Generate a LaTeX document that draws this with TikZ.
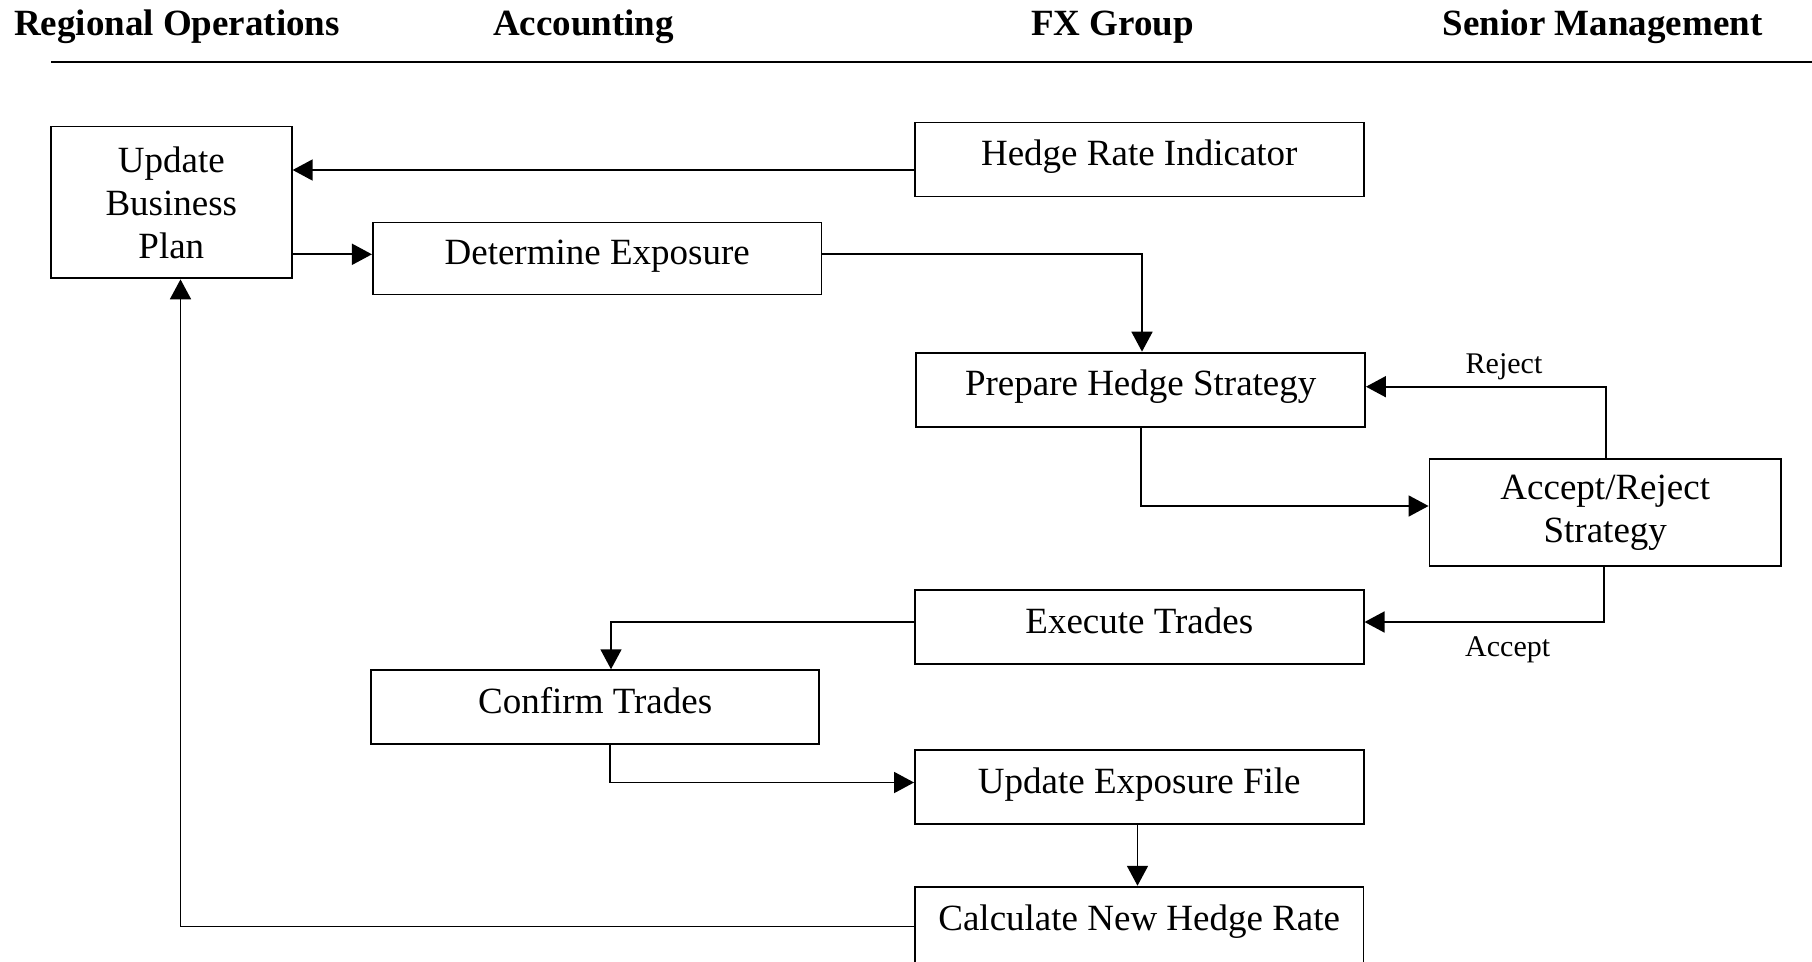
\documentclass[tikz,border=0pt]{standalone}
\usepackage{fontspec}
\setmainfont{Liberation Serif}
\usetikzlibrary{arrows.meta}
\begin{document}
\begin{tikzpicture}[x=1pt,y=-1pt,
  box/.style={draw, line width=1.9pt, inner sep=0pt,
    font=\fontsize{37}{43}\selectfont, text height=22pt, text depth=10pt,
    minimum width=448.6pt, minimum height=74pt},
  mbox/.style={draw, line width=1.9pt, inner sep=0pt, align=center,
    font=\fontsize{37}{43}\selectfont},
  title/.style={font=\bfseries\fontsize{37}{44}\selectfont, anchor=base, inner sep=0pt},
  lbl/.style={font=\fontsize{30}{36}\selectfont, anchor=base, inner sep=0pt},
  arr/.style={line width=1.8pt, -{Triangle[length=20pt,width=21pt]}},
  rule/.style={line width=1.9pt}]
\useasboundingbox (0,0) rectangle (1812,961);

% column titles
\node[title] (t1) at (177,35.5) {Regional Operations};
\node[title] (t2) at (583.5,35.5) {Accounting};
\node[title] (t3) at (1112.5,35.5) {FX Group};
\node[title] (t4) at (1602.7,35.5) {Senior Management};
\coordinate (ruleL) at (51,62);
\coordinate (ruleR) at (1812,62);
\draw[rule] (ruleL) -- (ruleR);

% boxes
\node[mbox, minimum width=240.7pt, minimum height=151.9pt] (UBP) at (171.35,202.45) {Update\\Business\\Plan};
\node[box] (HRI) at (1139.3,159.5) {Hedge Rate Indicator};
\node[box, minimum height=72pt] (DE) at (597.2,258.5) {Determine Exposure};
\node[box] (PHS) at (1140.7,389.6) {Prepare Hedge Strategy};
\node[mbox, minimum width=351.5pt, minimum height=107.6pt] (ARS) at (1605.25,512.4) {Accept/Reject\\Strategy};
\node[box] (ET) at (1139.3,627.2) {Execute Trades};
\node[box, minimum width=448.3pt] (CT) at (595.2,707.2) {Confirm Trades};
\node[box] (UEF) at (1139.3,787) {Update Exposure File};
\node[box, minimum height=78pt, text height=21pt, text depth=12.4pt] (CNHR) at (1139.2,925.7) {Calculate New Hedge Rate};

% labels
\node[lbl] (rej) at (1504,373.3) {Reject};
\node[lbl] (acc) at (1507.7,656) {Accept};

% connectors
\draw[arr] (HRI.west |- 0,170) -- (UBP.east |- 0,170);
\draw[arr] (UBP.east |- 0,254.3) -- (DE.west |- 0,254.3);
\draw[arr] (DE.east |- 0,254.3) -| (PHS.north -| 1142,0);
\draw[arr] (PHS.south -| 1141,0) |- (ARS.west |- 0,506);
\draw[arr] (ARS.north -| 1605.7,0) |- (PHS.east |- 0,386.7);
\draw[arr] (ARS.south -| 1604,0) |- (ET.east |- 0,622);
\draw[arr] (ET.west |- 0,621.7) -| (CT.north -| 611,0);
\draw[arr] (CT.south -| 610,0) |- (UEF.west |- 0,782.5);
\draw[arr] (UEF.south -| 1137.5,0) -- (CNHR.north -| 1137.5,0);
\draw[arr] (CNHR.west |- 0,926.5) -| (UBP.south -| 180.5,0);
\end{tikzpicture}
\end{document}
